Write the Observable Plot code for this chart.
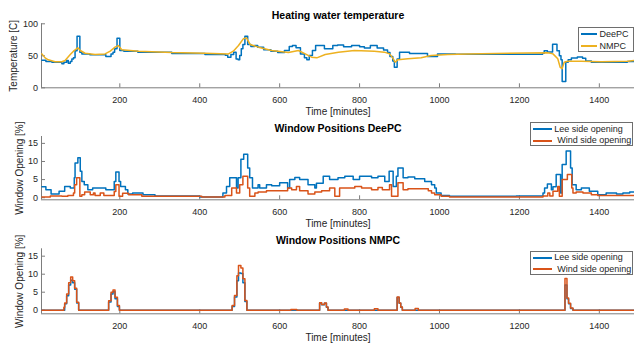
<!DOCTYPE html>
<html>
<head>
<meta charset="utf-8">
<script src="https://cdn.jsdelivr.net/npm/d3@7"></script>
<script src="https://cdn.jsdelivr.net/npm/@observablehq/plot@0.6"></script>
<style>
  body { margin: 0; background: #fff; }
  #fig { position: relative; width: 634px; height: 347px; overflow: hidden; background: #fff;
         font-family: "Liberation Sans", Arial, Helvetica, sans-serif; }
  #fig svg { position: absolute; left: 0; top: 0; }
  .lg-box { position: absolute; background: #fff; border: 1px solid #6e6e6e; box-sizing: border-box; }
  .lg-txt { position: absolute; font-size: 9px; line-height: 11px; height: 11px; color: #262626; white-space: pre; }
  .lg-sw { position: absolute; height: 2px; }
</style>
</head>
<body>
<div id="fig"></div>
<script>
// ---------- data (time in minutes, value) ----------
const xTicks = [200, 400, 600, 800, 1000, 1200, 1400];
const tempTicks = [0, 50, 100];
const windowTicks = [0, 5, 10, 15];

const deepcTemp = [[5,43],[15,41],[30,40],[55,37.5],[60,40],[67,42.7],[71,38.5],[76,41],[80,45],[84,46.8],[88,58],[93,80.7],[100,55.7],[105,53],[125,51.5],[165,49],[178,53],[183,55.7],[187,61],[193,77.6],[200,58.3],[210,57],[245,55.7],[330,53.6],[413,52],[464,51],[470,47.9],[478,52],[485,55.7],[491,45],[496,43.7],[500,50.5],[504,61],[508,67.7],[513,80.7],[520,67.7],[528,64.5],[537,66],[545,63.5],[560,59.3],[578,57],[595,55],[612,58.3],[624,64.5],[632,66],[641,62.4],[652,53],[662,46.8],[668,43.7],[674,50.5],[682,58.3],[690,66],[712,61],[733,66],[745,67],[760,64],[780,66],[800,64],[812,62],[827,66],[844,62],[860,59],[870,55],[876,49],[883,42],[887,32],[894,45],[900,55.5],[925,53.5],[970,49],[995,53],[1040,52.5],[1100,52.5],[1180,52.5],[1240,52.5],[1258,54],[1262,58],[1270,56],[1283,68],[1294,58],[1300,50],[1304,44],[1307,10],[1316,40],[1322,44],[1330,46.5],[1345,48],[1358,46],[1366,42],[1380,40],[1430,40],[1470,41],[1488,42]];

const nmpcTemp = [[5,53],[13,46.8],[21,43.7],[38,40.6],[55,40.6],[63,42.7],[76,52],[84,57.2],[95,62.4],[101,58.3],[113,54],[138,52],[163,53],[176,57.2],[188,63.5],[196,66],[205,59.3],[247,57.2],[330,55],[413,54],[472,53],[484,57.2],[497,66],[509,76.5],[517,78],[526,67.7],[547,63.5],[580,58.3],[622,55],[647,58.3],[664,53],[680,47.9],[693,46.8],[714,52],[747,55.7],[787,58.3],[837,57.2],[862,55.7],[875,53],[883,46.8],[889,40],[896,44],[921,45.3],[954,46.8],[979,50.5],[1021,52],[1071,53],[1271,54.6],[1284,53],[1296,45.3],[1302,32],[1307,30],[1312,40],[1321,41.6],[1355,41.6],[1405,40.6],[1471,41.6],[1488,42.7]];

const deepcLee = [[5,3.0],[15,2.2],[28,1.0],[48,1.8],[62,3.1],[76,2.7],[86,5.5],[88,9.6],[95,11],[101,7.3],[105,4.5],[111,3.6],[120,2.2],[132,2.7],[150,2.7],[165,2.2],[186,4.5],[190,7.1],[198,4.5],[202,3.1],[214,2.2],[220,1.0],[232,1.3],[258,0.8],[288,0.5],[400,0.2],[458,1.3],[467,3.1],[475,5.5],[492,2.7],[496,5.5],[503,10.6],[510,12],[520,8.2],[525,5.5],[532,2.7],[546,3.6],[550,2.7],[567,3.6],[580,3.3],[600,4.1],[620,2.7],[625,5],[638,5.6],[650,5],[671,3.6],[688,2.7],[692,4],[709,5.9],[725,5],[746,5.5],[763,5.9],[784,5],[800,5.9],[830,5.5],[846,5.9],[863,4.5],[874,7.3],[884,3.1],[892,5.9],[896,8.2],[909,5.5],[921,5.7],[938,5.2],[963,4.5],[980,3.6],[988,2.7],[992,1.3],[1004,0.6],[1025,0.4],[1192,0.5],[1259,1.3],[1263,2.7],[1270,3.8],[1280,2.2],[1284,3.0],[1292,6.4],[1303,1.3],[1307,9.2],[1317,12.9],[1328,8.2],[1332,3.6],[1342,2.2],[1355,2.7],[1375,1.8],[1396,0.8],[1417,1.3],[1443,1.0],[1459,1.3],[1476,1.6],[1488,1.6]];

const deepcWind = [[5,0.2],[26,0.5],[55,0.4],[70,0.6],[84,1.3],[87,3.6],[92,5.5],[100,0.4],[105,0.8],[112,1.6],[126,0.8],[134,1.3],[138,0.6],[151,1.3],[160,0.6],[186,1.7],[190,3.6],[198,0.4],[207,1.2],[222,0.8],[255,0.4],[405,0.2],[463,0.6],[480,2.7],[492,1.3],[500,3.6],[508,5.9],[520,2.7],[525,0.4],[538,1.3],[546,1.6],[567,1.9],[620,2.7],[630,2.2],[642,3.1],[650,1.9],[671,1.0],[688,1.6],[705,1.9],[725,2.7],[738,0.4],[750,2.7],[788,3.1],[805,2.7],[830,2.2],[846,2.8],[857,2.2],[875,3.6],[880,0.4],[896,4.1],[909,2.2],[921,2.5],[972,1.9],[980,1.3],[988,0.8],[1004,0.4],[1025,0.2],[1259,0.5],[1271,1.3],[1276,0.5],[1284,1.8],[1296,3.1],[1300,0.4],[1307,5],[1320,6.4],[1331,2.7],[1334,1.3],[1342,1.6],[1359,1.3],[1380,0.8],[1396,0.6],[1488,0.6]];

const nmpcLee = [[5,0],[62,1.8],[67,4],[72,7],[77,8.3],[82,7.6],[87,5.8],[92,2],[97,0],[172,2.3],[178,4.5],[183,5.1],[188,3.2],[194,1],[199,0],[481,1],[487,3.7],[493,8.2],[497,10.3],[503,10.2],[508,7.6],[513,2.4],[518,0],[700,2],[705,1.5],[712,1.9],[717,0.8],[721,0],[894,3.5],[899,1.9],[903,0.8],[907,0],[1314,7.0],[1319,3.2],[1323,1.8],[1328,0.5],[1334,0],[1488,0]];

const nmpcWind = [[5,0],[60,0.8],[62,2],[67,4.5],[72,7.6],[77,9.2],[82,8.2],[87,6.1],[92,2.2],[97,0],[172,2.6],[178,5],[183,5.6],[188,3.6],[194,1.3],[199,0],[481,1.3],[487,4.1],[493,9.6],[497,12.4],[503,11.7],[508,8.7],[513,2.7],[518,0],[628,0.2],[643,0],[700,2.1],[705,1.6],[712,2],[717,0.9],[721,0],[762,0.3],[771,0],[837,0.4],[846,0],[894,3.7],[899,2],[903,0.9],[907,0],[939,0.5],[947,0],[1314,8.8],[1319,3.4],[1323,1.9],[1328,0.6],[1334,0],[1488,0]];

// ---------- styling ----------
const BLUE = "#0072BD", ORANGE = "#D95319", YELLOW = "#EDB120";
const AXIS = "#7d7d7d", TEXT = "#262626";
const W = 634, H = 347, ML = 41, MR = 0;
const xDomain = [4, 1488];

function panel({top, bottom, yDomain, yTicks, series, title, ylabel, ylabelDx}) {
  const plotH = bottom - top, plotW = W - ML - MR;
  const marks = [
    Plot.ruleX([xDomain[0]], {stroke: AXIS}),
    Plot.ruleY([yDomain[0]], {stroke: AXIS}),
    Plot.ruleX(xTicks, {stroke: AXIS, insetTop: plotH - 4}),
    Plot.ruleY(yTicks, {stroke: AXIS, insetRight: plotW - 4}),
    ...series.map(s => Plot.line(s.data, {x: d => d[0], y: d => d[1], stroke: s.color, strokeWidth: 1.5,
                                          curve: s.curve || "step-after"})),
    Plot.text([title], {text: d => d, frameAnchor: "top", dy: -5, lineAnchor: "bottom", textAnchor: "middle",
                        fontWeight: "bold", fontSize: 10.5, fill: "#000"}),
    Plot.text([ylabel], {text: d => d, frameAnchor: "left", rotate: -90, dx: ylabelDx, lineAnchor: "middle",
                         textAnchor: "middle", fontSize: 10, fill: TEXT}),
    Plot.text(["Time [minutes]"], {text: d => d, frameAnchor: "bottom", dy: 24, lineAnchor: "middle",
                                   textAnchor: "middle", fontSize: 10, fill: TEXT})
  ];
  return Plot.plot({
    width: W, height: H,
    marginLeft: ML, marginRight: MR, marginTop: top, marginBottom: H - bottom,
    style: {fontFamily: '"Liberation Sans", Arial, Helvetica, sans-serif', fontSize: "9px",
            color: TEXT, background: "transparent", overflow: "visible"},
    x: {domain: xDomain, ticks: xTicks, tickSize: 0, tickPadding: 8.5, tickFormat: d => String(d), label: null},
    y: {domain: yDomain, ticks: yTicks, tickSize: 0, tickPadding: 3.5, tickFormat: d => String(d), label: null},
    marks
  });
}

const fig = document.getElementById("fig");
fig.appendChild(panel({top: 23.3, bottom: 87.3, yDomain: [0, 100], yTicks: tempTicks,
  series: [{data: deepcTemp, color: BLUE}, {data: nmpcTemp, color: YELLOW, curve: "linear"}],
  title: "Heating water temperature", ylabel: "Temperature [C]", ylabelDx: -28}));
fig.appendChild(panel({top: 136, bottom: 199.3, yDomain: [-0.58, 16.9], yTicks: windowTicks,
  series: [{data: deepcLee, color: BLUE}, {data: deepcWind, color: ORANGE}],
  title: "Window Positions DeePC", ylabel: "Window Opening [%]", ylabelDx: -22}));
fig.appendChild(panel({top: 248.3, bottom: 313.3, yDomain: [-1, 17.05], yTicks: windowTicks,
  series: [{data: nmpcLee, color: BLUE}, {data: nmpcWind, color: ORANGE}],
  title: "Window Positions NMPC", ylabel: "Window Opening [%]", ylabelDx: -22}));

// ---------- legends (HTML overlays) ----------
const legendNames1 = ["DeePC", "NMPC"];
const legendNames2 = ["Lee side opening", "Wind side opening"];
function legend({x0, x1, y0, y1, rows, swX0, swX1, textX}) {
  const box = document.createElement("div");
  box.className = "lg-box";
  Object.assign(box.style, {left: x0 + "px", top: y0 + "px", width: (x1 - x0) + "px", height: (y1 - y0) + "px"});
  fig.appendChild(box);
  rows.forEach(r => {
    const sw = document.createElement("div");
    sw.className = "lg-sw";
    Object.assign(sw.style, {left: swX0 + "px", width: (swX1 - swX0) + "px", top: Math.round(r.cy - 1) + "px",
                             backgroundColor: r.color});
    fig.appendChild(sw);
    const t = document.createElement("div");
    t.className = "lg-txt";
    t.textContent = r.name;
    Object.assign(t.style, {left: (r.tx ?? textX) + "px", top: (r.cy - 5.5) + "px"});
    fig.appendChild(t);
  });
}
legend({x0: 578, x1: 634, y0: 27, y1: 52, swX0: 581, swX1: 597, textX: 599.5,
  rows: [{name: legendNames1[0], color: BLUE, cy: 34}, {name: legendNames1[1], color: YELLOW, cy: 46}]});
legend({x0: 530, x1: 633, y0: 122, y1: 146, swX0: 533, swX1: 552, textX: 554.3,
  rows: [{name: legendNames2[0], color: BLUE, cy: 129.3}, {name: legendNames2[1], color: ORANGE, cy: 140.7, tx: 557.3}]});
legend({x0: 530, x1: 633, y0: 251, y1: 275, swX0: 533, swX1: 552, textX: 554.3,
  rows: [{name: legendNames2[0], color: BLUE, cy: 257.7}, {name: legendNames2[1], color: ORANGE, cy: 269.3, tx: 557.3}]});
</script>
</body>
</html>
